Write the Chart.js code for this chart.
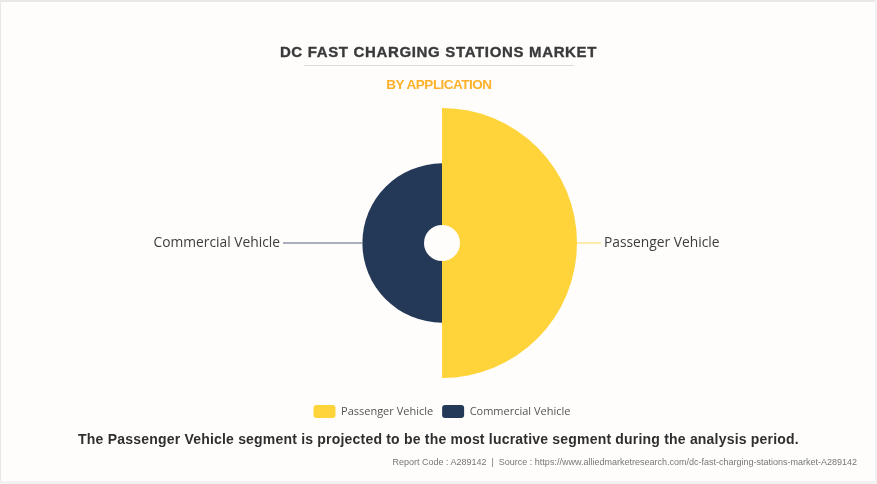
<!DOCTYPE html>
<html>
<head>
<meta charset="utf-8">
<title>DC Fast Charging Stations Market</title>
<script src="https://cdn.jsdelivr.net/npm/chart.js@4/dist/chart.umd.min.js"></script>
<style>
  html, body { margin: 0; padding: 0; background: #fff; }
  #card { position: relative; width: 875px; height: 481px; background: #fefdfc; border-right: 2px solid #f1f1f1; border-bottom: 3px solid #f1f1f1; box-shadow: inset 1px 2px 0 #e8e8e8; overflow: hidden; }
  #card canvas { position: absolute; left: 0; top: 0; }
  .txt { position: absolute; white-space: nowrap; font-family: "Liberation Sans", Arial, sans-serif; }
  #title { left: 0; width: 877px; text-align: center; top: 43px; font-size: 15px; font-weight: 700; letter-spacing: 0.66px; -webkit-text-stroke: 0.35px #3a3a3a; color: #3a3a3a; }
  #rule { position: absolute; left: 304px; top: 65px; width: 270px; height: 1px; background: #dcdcdc; }
  #subtitle { left: 0; width: 878px; text-align: center; top: 77px; font-size: 13.5px; font-weight: 700; letter-spacing: -0.5px; color: #fdb128; }
  #note { left: 0; width: 877px; text-align: center; top: 431px; font-size: 14px; font-weight: 700; letter-spacing: 0.2px; color: #2f2f2f; }
  #source { right: 18px; top: 457px; font-size: 9px; color: #777; }
</style>
</head>
<body>
<div id="card">
  <canvas id="chart" width="877" height="484"></canvas>
  <div class="txt" id="title">DC FAST CHARGING STATIONS MARKET</div>
  <div id="rule"></div>
  <div class="txt" id="subtitle">BY APPLICATION</div>
  <div class="txt" id="note">The Passenger Vehicle segment is projected to be the most lucrative segment during the analysis period.</div>
  <div class="txt" id="source">Report Code : A289142&nbsp; |&nbsp; Source : https://www.alliedmarketresearch.com/dc-fast-charging-stations-market-A289142</div>
</div>
<script>
const categories = ["Passenger Vehicle", "Commercial Vehicle"];
const shares = [65.5, 34.5];
const colors = ["#ffd43b", "#243858"];
const lineColors = ["#ffe79a", "#8d95a8"];

// the rose starts from a small hole, so the radial axis runs a bit below zero
const holeRadius = 18;
const outerRadius = 135;
const axisMax = shares[0];
const axisMin = -axisMax * holeRadius / (outerRadius - holeRadius);

const calloutPlugin = {
  id: "callouts",
  afterDatasetsDraw(chart) {
    const { ctx } = chart;
    const scale = chart.scales.r;
    const cx = scale.xCenter, cy = scale.yCenter;

    // white hole
    ctx.save();
    ctx.fillStyle = "#fefdfc";
    ctx.beginPath();
    ctx.arc(cx, cy, holeRadius, 0, Math.PI * 2);
    ctx.fill();

    // leader lines + labels
    ctx.font = '13.8px "Open Sans", sans-serif';
    ctx.textBaseline = "middle";
    ctx.fillStyle = "#3d3d3d";
    ctx.lineWidth = 1.7;
    categories.forEach((name, i) => {
      const r = scale.getDistanceFromCenterForValue(shares[i]);
      const dir = i === 0 ? 1 : -1;
      const lineEnd = i === 0 ? cx + 159 : cx - 159;
      ctx.strokeStyle = lineColors[i];
      ctx.beginPath();
      ctx.moveTo(cx + dir * r, cy);
      ctx.lineTo(lineEnd, cy);
      ctx.stroke();
      ctx.textAlign = i === 0 ? "left" : "right";
      ctx.fillText(name, lineEnd + dir * 3, cy);
    });
    ctx.restore();
  }
};

new Chart(document.getElementById("chart"), {
  type: "polarArea",
  data: {
    labels: categories,
    datasets: [{ data: shares, backgroundColor: colors, borderWidth: 0 }]
  },
  options: {
    responsive: false,
    animation: false,
    events: [],
    layout: { padding: { top: 108, bottom: 56, left: 7, right: 0 } },
    scales: {
      r: { display: false, min: axisMin, max: axisMax }
    },
    plugins: {
      tooltip: { enabled: false },
      legend: {
        position: "bottom",
        // empty title only pushes the legend row down from the chart
        title: { display: true, text: "", padding: { top: 1, bottom: 1 } },
        labels: {
          boxWidth: 22,
          boxHeight: 13,
          padding: 9,
          color: "#555",
          font: { family: '"Open Sans", sans-serif', size: 11 },
          generateLabels(chart) {
            return Chart.PolarAreaController.overrides.plugins.legend.labels.generateLabels(chart)
              .map(item => ({ ...item, borderRadius: 3 }));
          }
        }
      }
    }
  },
  plugins: [calloutPlugin]
});
</script>
</body>
</html>
